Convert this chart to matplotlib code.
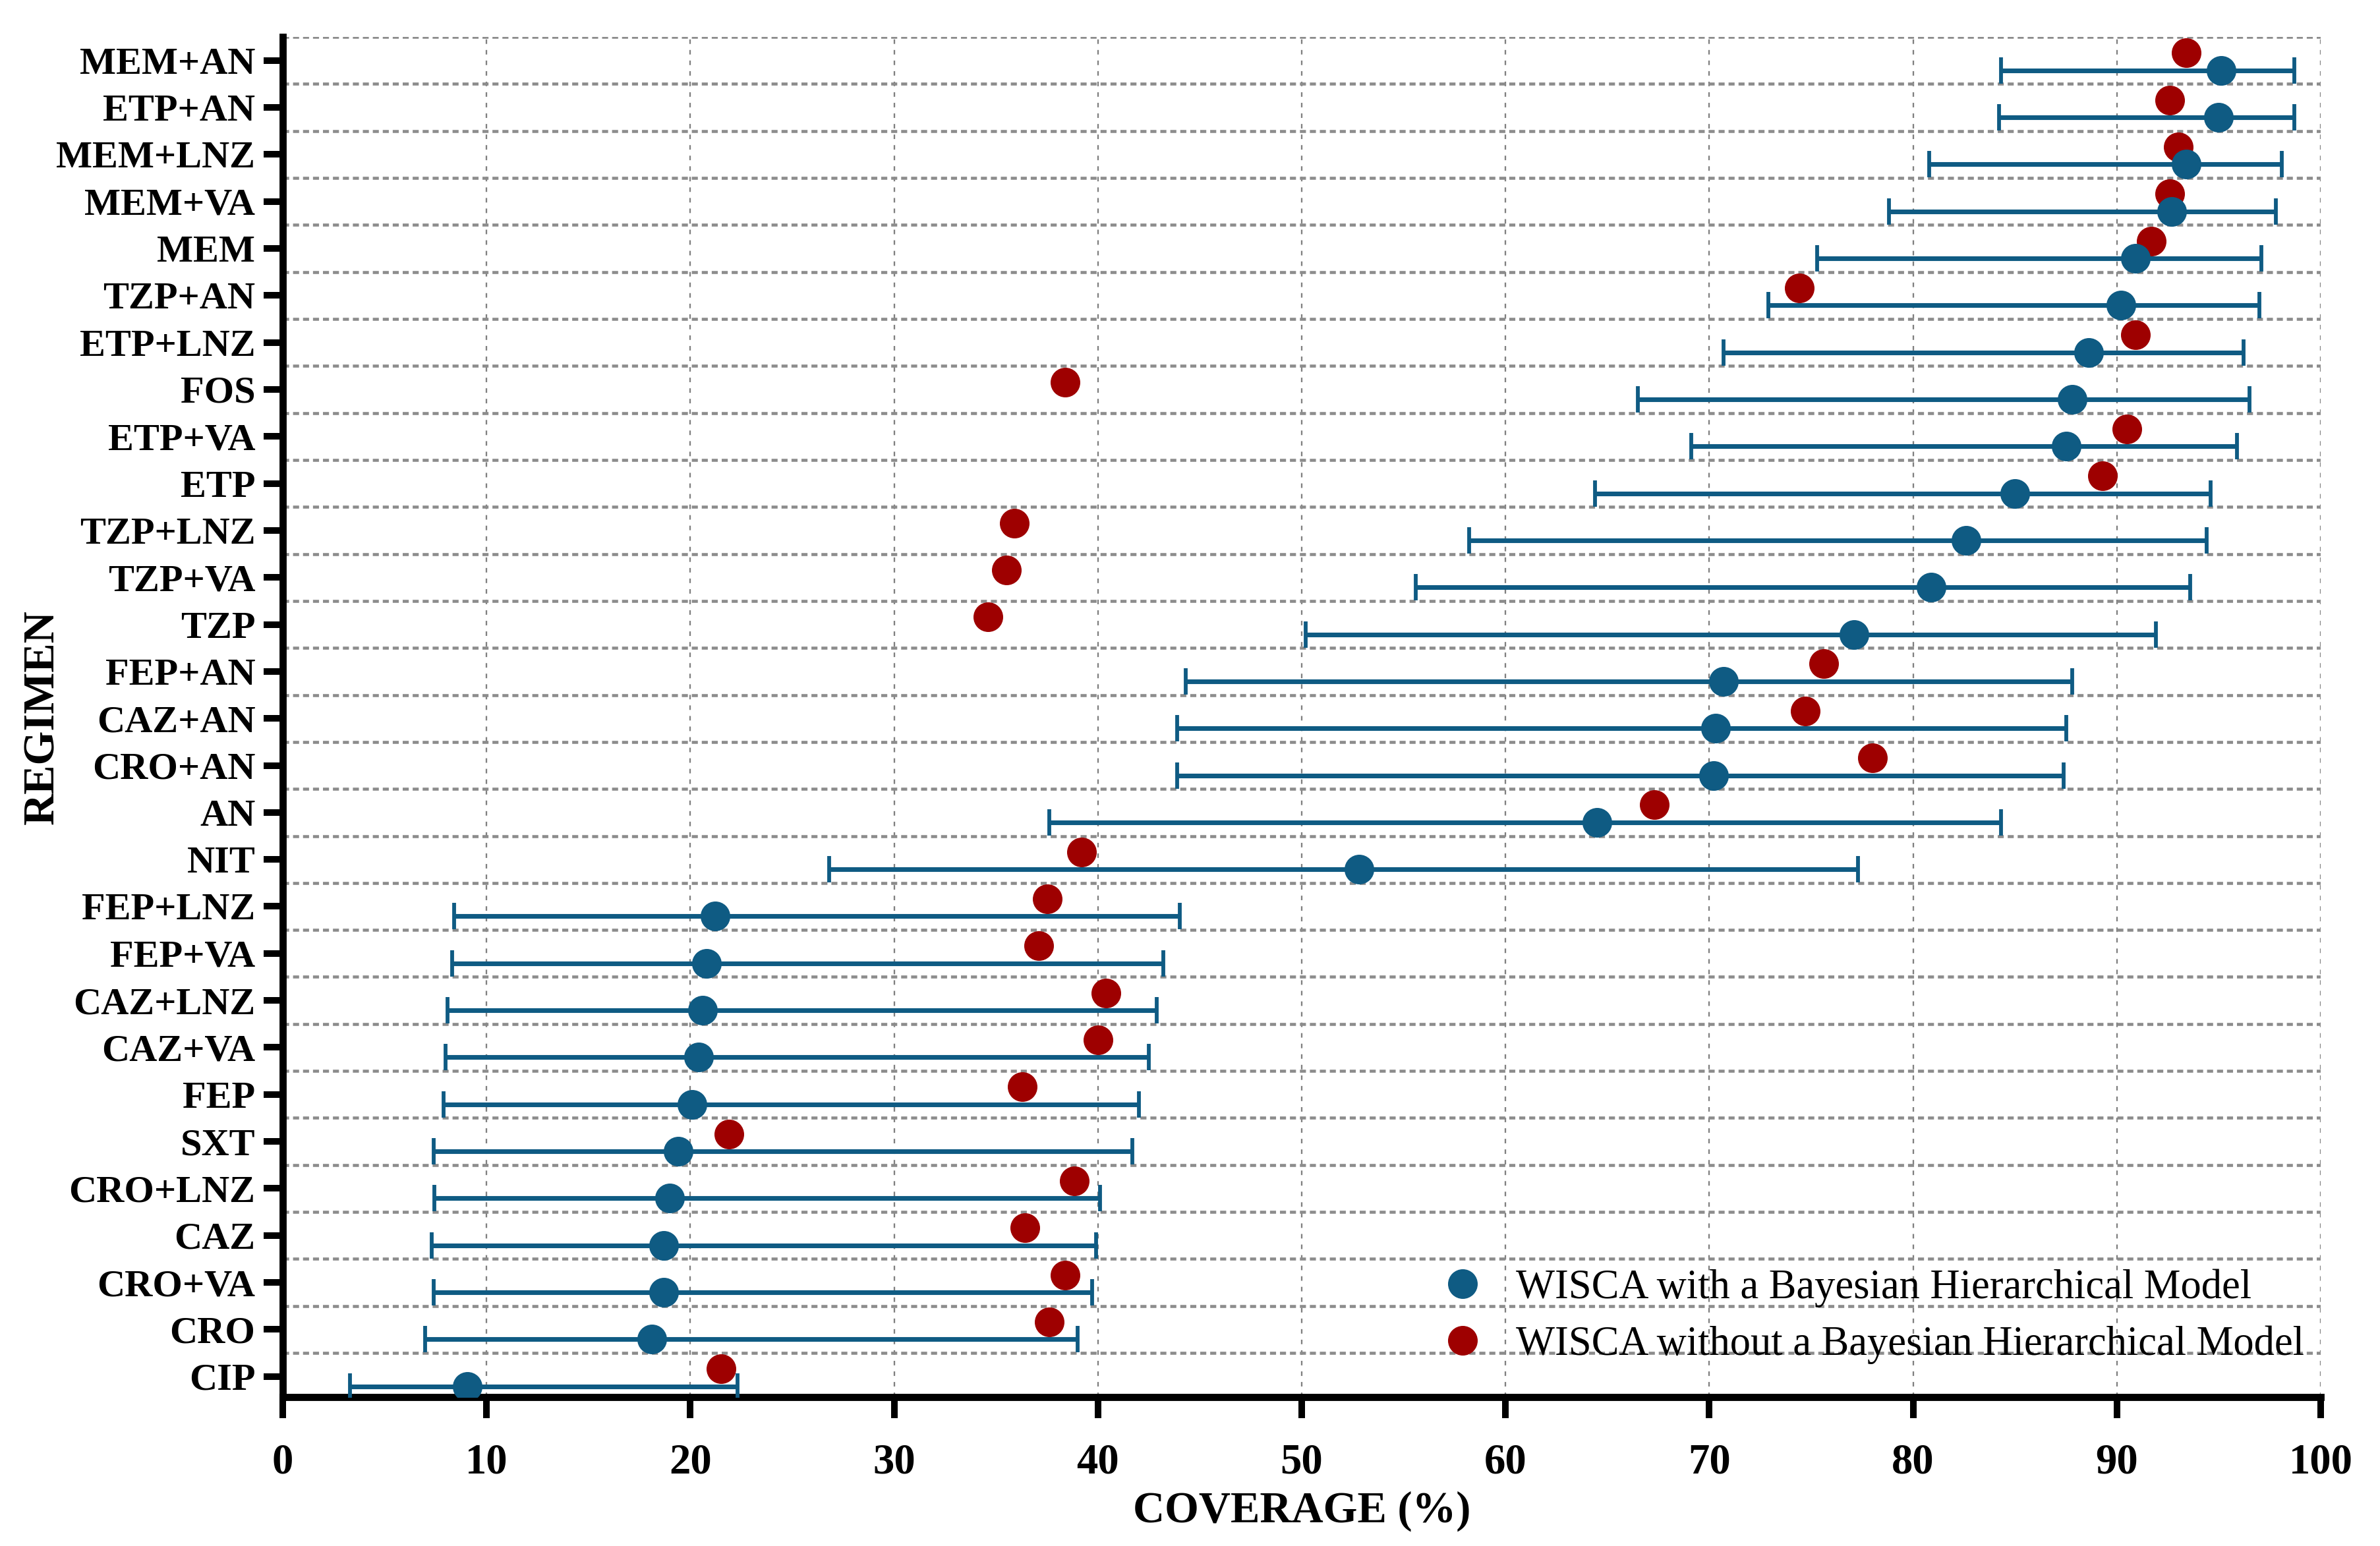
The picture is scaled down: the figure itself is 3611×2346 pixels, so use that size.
import numpy as np
import matplotlib
import matplotlib.pyplot as plt

matplotlib.use('Agg')

DPI = 300
SIZE = (3611 / DPI, 2346 / DPI)
FONT = 'Liberation Serif'
PATH = "out.png"
BLUE = '#0f5b83'
RED = '#9e0000'

# regimens, top to bottom
REGIMENS = ["MEM+AN", "ETP+AN", "MEM+LNZ", "MEM+VA", "MEM", "TZP+AN", "ETP+LNZ",
            "FOS", "ETP+VA", "ETP", "TZP+LNZ", "TZP+VA", "TZP", "FEP+AN", "CAZ+AN",
            "CRO+AN", "AN", "NIT", "FEP+LNZ", "FEP+VA", "CAZ+LNZ", "CAZ+VA", "FEP",
            "SXT", "CRO+LNZ", "CAZ", "CRO+VA", "CRO", "CIP"]

# WISCA with a Bayesian hierarchical model (mean, lower, upper)
BAYES = [95.1, 95.0, 93.4, 92.7, 90.9, 90.2, 88.6, 87.8, 87.5, 85.0, 82.6, 80.9, 77.1,
         70.7, 70.3, 70.2, 64.5, 52.8, 21.2, 20.8, 20.6, 20.4, 20.1, 19.4, 19.0, 18.7,
         18.7, 18.1, 9.05]
BAYES_LOW = [84.3, 84.2, 80.8, 78.8, 75.3, 72.9, 70.7, 66.5, 69.1, 64.4, 58.2, 55.6, 50.2,
             44.3, 43.9, 43.9, 37.6, 26.8, 8.4, 8.3, 8.1, 8.0, 7.9, 7.4, 7.45, 7.3,
             7.4, 7.0, 3.3]
BAYES_HIGH = [98.7, 98.7, 98.1, 97.8, 97.1, 97.0, 96.2, 96.5, 95.9, 94.6, 94.4, 93.6, 91.9,
              87.8, 87.5, 87.4, 84.3, 77.3, 44.0, 43.2, 42.9, 42.5, 42.0, 41.7, 40.1, 39.9,
              39.7, 39.0, 22.3]

# WISCA without a Bayesian hierarchical model
NO_BAYES = [93.4, 92.6, 93.0, 92.6, 91.7, 74.4, 90.9, 38.4, 90.5, 89.3, 35.9, 35.5, 34.6,
            75.6, 74.7, 78.0, 67.3, 39.2, 37.5, 37.1, 40.4, 40.0, 36.3, 21.9, 38.85, 36.4,
            38.4, 37.6, 21.5]

XTICKS = list(range(0, 101, 10))


#   font settings
def config_graph():
    plt.rcParams['font.family'] = FONT
    plt.rcParams['font.size'] = 14


#   grid lines (row separators and vertical guides)
def draw_grid(ax, n):
    for x in XTICKS[1:]:
        ax.axvline(x, color='#808080', lw=0.55, ls=(0, (3, 4)), zorder=0)
    for b in np.arange(n) - 0.5:
        ax.axhline(b, color='#8c8c8c', lw=1.1, ls=(0, (2, 1.3)), zorder=0)


#   points and confidence intervals
def draw_points(ax):
    y = np.arange(len(REGIMENS))
    mean = np.array(BAYES)
    low = mean - np.array(BAYES_LOW)
    high = np.array(BAYES_HIGH) - mean
    red, = ax.plot(NO_BAYES, y - 0.16, 'o', color=RED, ms=9.8, zorder=3)
    ax.errorbar(mean, y + 0.21, xerr=[low, high], fmt='none', ecolor=BLUE,
                elinewidth=1.7, capsize=4.9, capthick=1.4, zorder=4)
    blue, = ax.plot(mean, y + 0.21, 'o', color=BLUE, ms=9.8, zorder=5)
    return blue, red


#   axes, ticks and labels
def draw_label(ax, blue, red):
    n = len(REGIMENS)
    ax.set_xlim(0, 100)
    ax.set_ylim(n - 0.56, -0.5)
    ax.set_xticks(XTICKS)
    ax.set_yticks(np.arange(n))
    ax.set_yticklabels(REGIMENS, fontsize=14, fontweight='bold')
    for lab in ax.get_xticklabels():
        lab.set_fontsize(15.5)
        lab.set_fontweight('bold')
    ax.tick_params(axis='x', length=7.7, width=2.4, pad=9)
    ax.tick_params(axis='y', length=7, width=2.4, pad=3)
    for s in ['top', 'right']:
        ax.spines[s].set_visible(False)
    for s in ['left', 'bottom']:
        ax.spines[s].set_linewidth(2.6)
    ax.set_xlabel("COVERAGE (%)", fontsize=16, fontweight='bold')
    ax.set_ylabel("REGIMEN", fontsize=16, fontweight='bold')
    ax.xaxis.set_label_coords(0.5, -0.069)
    ax.yaxis.set_label_coords(-0.108, 0.5)

    ax.legend([blue, red],
              ["WISCA with a Bayesian Hierarchical Model",
               "WISCA without a Bayesian Hierarchical Model"],
              loc='lower right', bbox_to_anchor=(1.0, 0.012), frameon=False,
              fontsize=15, handlelength=1.0, handletextpad=0.8, labelspacing=0.45,
              borderaxespad=0, numpoints=1)


#   build and save
def graph():
    config_graph()
    fig = plt.figure(figsize=SIZE, dpi=DPI)
    ax = fig.add_axes([0.1188, 0.0963, 0.8563, 0.8798])
    draw_grid(ax, len(REGIMENS))
    blue, red = draw_points(ax)
    draw_label(ax, blue, red)
    fig.savefig(PATH, dpi=DPI)
    plt.close(fig)


if __name__ == "__main__":
    graph()
